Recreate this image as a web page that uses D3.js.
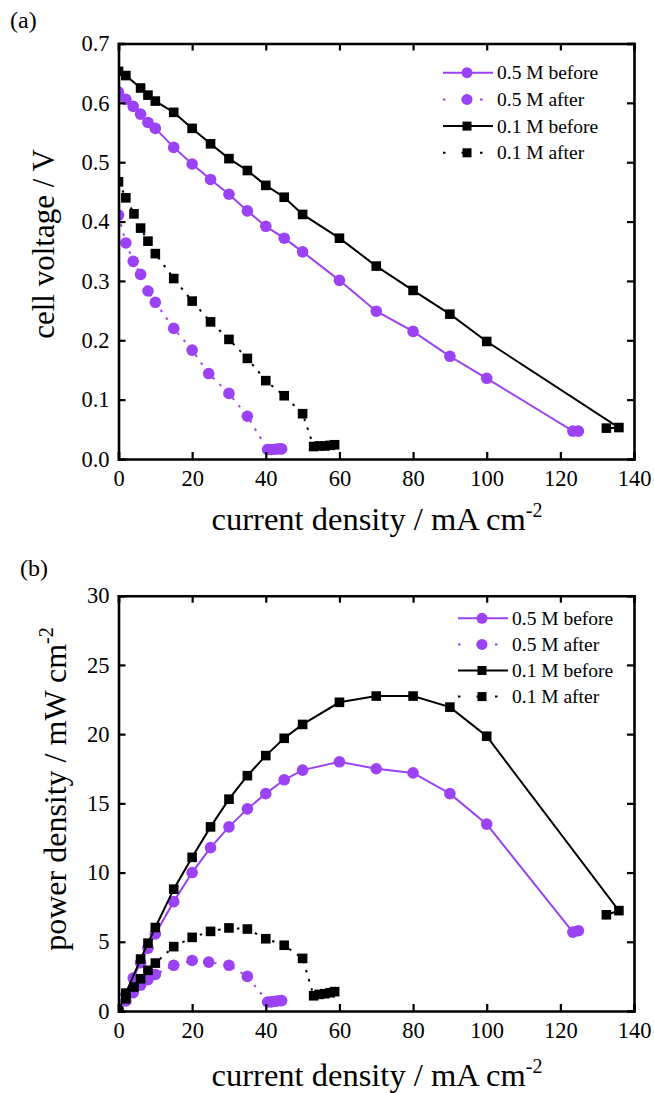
<!DOCTYPE html>
<html>
    <head>
        <meta charset="utf-8">
        <title>cell voltage / power density</title>
        <script src="https://d3js.org/d3.v7.min.js"></script>
        <style>
            body { margin: 0; background: white; }
            svg text { font-family: "Liberation Serif", "Times New Roman", Times, serif; fill: black; }
        </style>
    </head>
    <body>
        <svg id="chart" width="654" height="1093" font-family="Liberation Serif"></svg>
        <script>
        // data (current in mA cm-2, voltage in V, power in mW cm-2)
        var currentPurpleBefore = [0,2,4,6,8,10,15,20,25,30,35,40,45,50,60,70,80,90,100,123.4,124.9];
        var voltagePurpleBefore = [0.618,0.606,0.594,0.581,0.567,0.557,0.525,0.497,0.471,0.446,0.418,0.392,0.372,0.349,0.301,0.249,0.215,0.173,0.136,0.047,0.047];
        var powerPurpleBefore   = [0,1.21,2.38,3.49,4.54,5.57,7.9,10.0,11.8,13.3,14.6,15.7,16.7,17.4,18.0,17.5,17.2,15.7,13.5,5.7,5.8];

        var currentPurpleAfter = [0,2,4,6,8,10,15,20,24.5,30,35,40.5,41.5,42.5,43.5,44.3];
        var voltagePurpleAfter = [0.411,0.364,0.333,0.311,0.283,0.264,0.220,0.1835,0.144,0.1105,0.072,0.016,0.016,0.0165,0.017,0.017];
        var powerPurpleAfter   = [0,0.73,1.33,1.87,2.26,2.64,3.3,3.65,3.53,3.3,2.5,0.65,0.66,0.70,0.74,0.75];

        var currentBlackBefore = [0,2,6,8,10,15,20,25,30,35,40,45,50,60,70,80,90,100,135.9,132.5];
        var voltageBlackBefore = [0.653,0.646,0.625,0.613,0.603,0.584,0.557,0.531,0.506,0.486,0.461,0.441,0.412,0.372,0.325,0.284,0.244,0.198,0.053,0.052];
        var powerBlackBefore   = [0,1.29,3.75,4.9,6.03,8.8,11.1,13.3,15.3,17.0,18.45,19.7,20.7,22.3,22.75,22.75,21.95,19.85,7.25,6.95];

        var currentBlackAfter = [0,2,4.2,6,8,10,15,20,25,30,35,40,45,50,53,54.5,56,57.5,58.7];
        var voltageBlackAfter = [0.467,0.440,0.413,0.389,0.367,0.346,0.304,0.266,0.231,0.2015,0.1695,0.132,0.1066,0.0763,0.021,0.022,0.022,0.023,0.024];
        var powerBlackAfter   = [0,0.88,1.73,2.33,2.94,3.46,4.65,5.32,5.75,6.0,5.92,5.22,4.75,3.8,1.1,1.2,1.25,1.32,1.4];

        var legendLabels = ["0.5 M before", "0.5 M after", "0.1 M before", "0.1 M after"];
        var xTicks = [0,20,40,60,80,100,120,140];
        var voltageTicks = [0.0,0.1,0.2,0.3,0.4,0.5,0.6,0.7];
        var powerTicks = [0,5,10,15,20,25,30];

        var purple = "#9b42f5";
        var svg = d3.select("#chart");

        function zip(xs, ys){
            return xs.map(function(x, i){ return [x, ys[i]]; });
        }

        function drawPanel(p){
            var g = svg.append("g");
            var x = d3.scaleLinear().domain([0,140]).range([118.5, 634]);
            var y = d3.scaleLinear().domain(p.yDomain).range([p.bottom, p.top]);

            var clipId = "clip-" + p.id;
            g.append("clipPath").attr("id", clipId)
                .append("rect")
                .attr("x", x(0)).attr("y", p.top)
                .attr("width", x(140) - x(0)).attr("height", p.bottom - p.top);

            var series = [
                {xs: currentPurpleBefore, ys: p.purpleBefore, color: purple, dash: null, shape: "circle"},
                {xs: currentPurpleAfter,  ys: p.purpleAfter,  color: purple, dash: "2.5,7", shape: "circle"},
                {xs: currentBlackBefore,  ys: p.blackBefore,  color: "black", dash: null, shape: "square"},
                {xs: currentBlackAfter,   ys: p.blackAfter,   color: "black", dash: "2.5,7", shape: "square"}
            ];

            var line = d3.line().x(d => x(d[0])).y(d => y(d[1]));
            var plot = g.append("g").attr("clip-path", "url(#" + clipId + ")");

            series.forEach(function(s){
                var pts = zip(s.xs, s.ys);
                plot.append("path")
                    .datum(pts)
                    .attr("d", line)
                    .attr("fill", "none")
                    .attr("stroke", s.color)
                    .attr("stroke-width", 2)
                    .attr("stroke-dasharray", s.dash);
                if(s.shape == "circle"){
                    plot.selectAll(null).data(pts).enter()
                        .append("circle")
                        .attr("cx", d => x(d[0]))
                        .attr("cy", d => y(d[1]))
                        .attr("r", 5.8)
                        .attr("fill", s.color);
                }else{
                    plot.selectAll(null).data(pts).enter()
                        .append("rect")
                        .attr("x", d => x(d[0]) - 4.8)
                        .attr("y", d => y(d[1]) - 4.8)
                        .attr("width", 9.6).attr("height", 9.6)
                        .attr("fill", s.color);
                }
            });

            // axes: ticks point inward on every side
            var bottomAxis = d3.axisBottom(x).tickValues(xTicks).tickSize(-7).tickPadding(11).tickFormat(d3.format("d"));
            var topAxis = d3.axisTop(x).tickValues(xTicks).tickSize(-7).tickFormat("");
            var leftAxis = d3.axisLeft(y).tickValues(p.yTicks).tickSize(-7).tickPadding(9).tickFormat(p.yFormat);
            var rightAxis = d3.axisRight(y).tickValues(p.yTicks).tickSize(-7).tickFormat("");

            var axes = [
                g.append("g").attr("transform", "translate(0," + p.bottom + ")").call(bottomAxis),
                g.append("g").attr("transform", "translate(0," + p.top + ")").call(topAxis),
                g.append("g").attr("transform", "translate(" + x(0) + ",0)").call(leftAxis),
                g.append("g").attr("transform", "translate(" + x(140) + ",0)").call(rightAxis)
            ];
            axes.forEach(function(a){
                a.attr("font-family", null).attr("font-size", null);
            });

            g.selectAll(".domain").attr("stroke", "black").attr("stroke-width", 2.6);
            g.selectAll(".tick line").attr("stroke", "black").attr("stroke-width", 2.2);
            g.selectAll(".tick text")
                .style("font-family", '"Liberation Serif", serif')
                .style("font-size", "22.5px")
                .attr("fill", "black");

            // axis titles
            var xt = g.append("text")
                .attr("x", 377)
                .attr("y", p.xTitleY)
                .attr("text-anchor", "middle")
                .style("font-size", "32.5px");
            xt.append("tspan").text("current density / mA cm");
            xt.append("tspan").attr("dy", -13).style("font-size", "20px").text("-2");

            var yt = g.append("text")
                .attr("transform", "translate(" + p.yTitleX + "," + p.yTitleMid + ") rotate(-90)")
                .attr("text-anchor", "middle")
                .style("font-size", p.yTitleSize);
            yt.append("tspan").text(p.yTitle);
            if(p.yTitleSup){
                yt.append("tspan").attr("dy", -13).style("font-size", "20px").text(p.yTitleSup);
            }

            g.append("text").attr("x", p.labelX).attr("y", p.labelY)
                .style("font-size", "24px").text(p.label);

            // legend
            var leg = g.append("g");
            legendLabels.forEach(function(name, i){
                var s = series[i];
                var ly = p.legendY + i * p.legendStep;
                leg.append("line")
                    .attr("x1", p.legendX).attr("x2", p.legendX + 50)
                    .attr("y1", ly).attr("y2", ly)
                    .attr("stroke", s.color).attr("stroke-width", 2)
                    .attr("stroke-dasharray", s.dash ? "2.5,16" : null);
                if(s.shape == "circle"){
                    leg.append("circle").attr("cx", p.legendX + 24).attr("cy", ly).attr("r", 5.5).attr("fill", s.color);
                }else{
                    leg.append("rect").attr("x", p.legendX + 24 - 4.5).attr("y", ly - 4.5)
                        .attr("width", 9).attr("height", 9).attr("fill", s.color);
                }
                leg.append("text")
                    .attr("x", p.legendX + 54).attr("y", ly + 6.5)
                    .style("font-size", "19.5px")
                    .text(name);
            });
        }

        drawPanel({
            id: "a", top: 43.5, bottom: 459,
            yDomain: [0, 0.7], yTicks: voltageTicks, yFormat: d3.format(".1f"),
            purpleBefore: voltagePurpleBefore, purpleAfter: voltagePurpleAfter,
            blackBefore: voltageBlackBefore, blackAfter: voltageBlackAfter,
            xTitleY: 530, yTitleX: 54, yTitleMid: 244, yTitle: "cell voltage / V", yTitleSize: "31px",
            label: "(a)", labelX: 10, labelY: 28,
            legendX: 443, legendY: 72.7, legendStep: 26.7
        });

        drawPanel({
            id: "b", top: 595.7, bottom: 1011,
            yDomain: [0, 30], yTicks: powerTicks, yFormat: d3.format("d"),
            purpleBefore: powerPurpleBefore, purpleAfter: powerPurpleAfter,
            blackBefore: powerBlackBefore, blackAfter: powerBlackAfter,
            xTitleY: 1086, yTitleX: 66, yTitleMid: 789, yTitle: "power density / mW cm", yTitleSup: "-2", yTitleSize: "32px",
            label: "(b)", labelX: 20, labelY: 576,
            legendX: 458, legendY: 618.3, legendStep: 26.1
        });
        </script>
    </body>
</html>
